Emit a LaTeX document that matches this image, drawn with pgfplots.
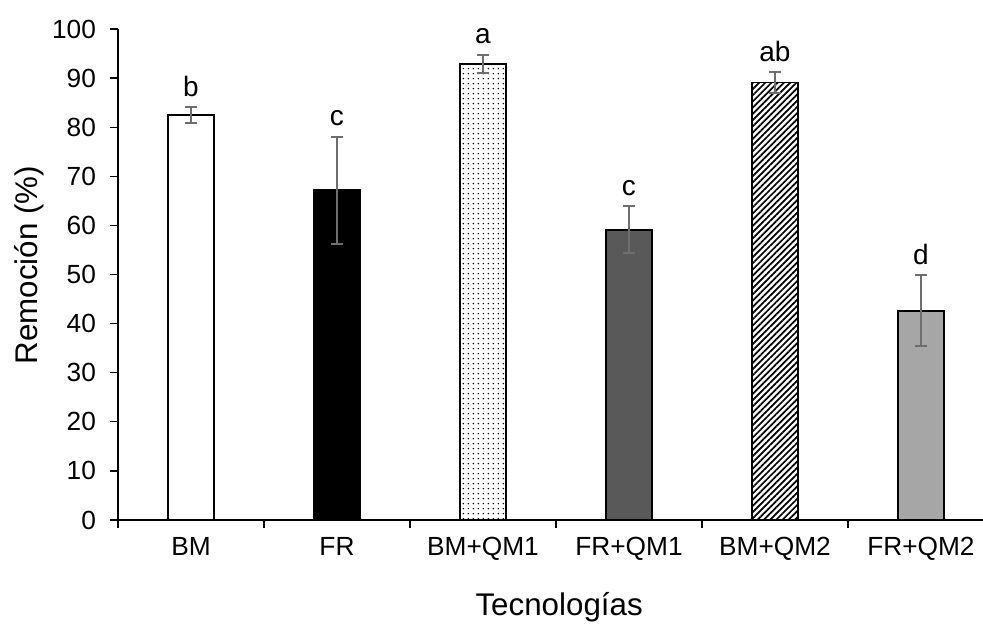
\documentclass[border=0pt]{standalone}
\usepackage{fontspec}
\setmainfont{Liberation Sans}
\usepackage{pgfplots}
\pgfplotsset{compat=1.18}
\usetikzlibrary{patterns.meta}
\definecolor{darkbar}{RGB}{89,89,89}
\definecolor{lightbar}{RGB}{166,166,166}
\definecolor{errgray}{RGB}{110,110,110}
\begin{document}
\begin{tikzpicture}
\begin{axis}[
  at={(0pt,0pt)}, anchor=south west,
  width=648.75pt, height=368.25pt, scale only axis,
  xmin=-0.5, xmax=5.425, ymin=0, ymax=100,
  axis x line*=bottom, axis y line*=left,
  axis line style={line width=1pt, -},
  /pgf/number format/assume math mode=true,
  ytick={0,10,...,100},
  xtick={0,...,5},
  xticklabels={BM,FR,BM+QM1,FR+QM1,BM+QM2,FR+QM2},
  minor xtick={-0.5,0.5,1.5,2.5,3.5,4.5},
  major x tick style={draw=none},
  minor x tick style={black, line width=1pt},
  major y tick style={black, line width=1pt},
  tick align=outside,
  major tick length=6pt, minor tick length=6pt,
  tick label style={font=\fontsize{19.7}{23}\selectfont},
  yticklabel style={xshift=-7pt},
  xticklabel style={yshift=-3.5pt},
  label style={font=\fontsize{23.5}{28}\selectfont},
  xlabel={Tecnologías},
  ylabel={Remoción (\%)},
  xlabel style={at={(axis description cs:0.51,-0.1935)}, anchor=base},
  ylabel style={at={(axis description cs:-0.0936,0.519)}, anchor=base},
  clip=false,
  error bars/y dir=both, error bars/y explicit,
  error bars/error bar style={errgray, line width=1.5pt},
  error bars/error mark options={errgray, rotate=90, mark size=4.5pt, line width=1.5pt},
]
% bars
\addplot[ybar, bar width=34.5pt, bar shift=0pt, draw=black, line width=1.2pt, fill=white]
  coordinates {(0,82.5) +- (0,1.55)};
\addplot[ybar, bar width=34.5pt, bar shift=0pt, draw=black, line width=1.2pt, fill=black]
  coordinates {(1,67.2) +- (0,10.9)};
\addplot[ybar, bar width=34.5pt, bar shift=0pt, draw=black, line width=1.2pt, fill=white,
  postaction={pattern={Dots[distance=4pt, radius=0.65pt]}}]
  coordinates {(2,92.9) +- (0,1.9)};
\addplot[ybar, bar width=34.5pt, bar shift=0pt, draw=black, line width=1.2pt, fill=darkbar]
  coordinates {(3,59.1) +- (0,4.8)};
\addplot[ybar, bar width=34.5pt, bar shift=0pt, draw=black, line width=1.2pt, fill=white,
  postaction={pattern={Lines[angle=45, distance=3.3pt, line width=1.3pt]}}]
  coordinates {(4,89.1) +- (0,2.2)};
\addplot[ybar, bar width=34.5pt, bar shift=0pt, draw=black, line width=1.2pt, fill=lightbar]
  coordinates {(5,42.6) +- (0,7.2)};
% significance letters (placed at top of error bars)
\addplot[draw=none, mark=none, error bars/y dir=none,
  nodes near coords, point meta=explicit symbolic,
  every node near coord/.append style={anchor=south, inner sep=0pt, yshift=7.5pt,
    font=\fontsize{21}{25}\selectfont, text=black}]
  coordinates {(0,84.05)[b] (1,78.1)[c] (2,94.8)[a] (3,63.9)[c] (4,91.3)[ab] (5,49.8)[d]};
\end{axis}
\pgfresetboundingbox
\path (-88.5pt,-78pt) rectangle (648.75pt,390pt);
\end{tikzpicture}
\end{document}
